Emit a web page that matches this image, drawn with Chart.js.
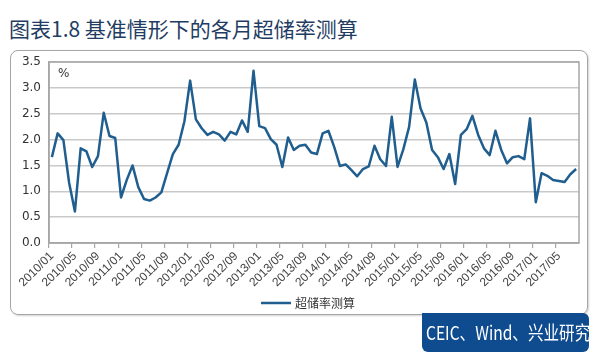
<!DOCTYPE html>
<html>
<head>
<meta charset="utf-8">
<script src="https://cdn.jsdelivr.net/npm/chart.js@4/dist/chart.umd.min.js"></script>
<style>
  body { margin: 0; background: #fff; }
  #wrap { position: relative; width: 600px; height: 360px; overflow: hidden; font-family: "Noto Sans CJK SC", "Noto Sans", sans-serif; }
  #title { position: absolute; left: 9px; top: 13px; font-size: 21px; color: #1f3d63; white-space: nowrap; }
  #frame { position: absolute; left: 10px; top: 50px; width: 578px; height: 265px; box-sizing: border-box;
           border: 1.5px solid #a6a6a6; border-radius: 8px; box-shadow: 1px 1px 2px rgba(0,0,0,0.18); }
  #chart { position: absolute; left: 0; top: 0; }
  #source { position: absolute; left: 422px; top: 313px; width: 167px; height: 39px; background: #0f4b8f;
            border-radius: 0 6px 6px 6px; overflow: hidden; }
  #source span { position: absolute; left: 4px; top: 0; color: #fff; font-size: 19px; line-height: 38px;
                 white-space: nowrap; transform: scaleX(0.82); transform-origin: left center; }
</style>
</head>
<body>
<div id="wrap">
  <div id="title">图表1.8 基准情形下的各月超储率测算</div>
  <div id="frame"></div>
  <canvas id="chart" width="600" height="360"></canvas>
  <div id="source"><span>CEIC、Wind、兴业研究</span></div>
</div>
<script>
const years = [2010, 2011, 2012, 2013, 2014, 2015, 2016, 2017];
const monthNames = ['01','02','03','04','05','06','07','08','09','10','11','12'];
const lastMonth = '2017/08';

// 超储率测算 (%), monthly 2010/01 - 2017/08
const excessReserve = [
  1.66, 2.12, 1.99, 1.16, 0.61, 1.83, 1.77, 1.47, 1.68, 2.52, 2.07, 2.03,
  0.88, 1.22, 1.50, 1.08, 0.85, 0.82, 0.88, 0.98, 1.35, 1.72, 1.90, 2.35,
  3.14, 2.39, 2.22, 2.09, 2.15, 2.10, 1.98, 2.15, 2.10, 2.37, 2.15, 3.33,
  2.26, 2.22, 2.01, 1.90, 1.47, 2.04, 1.80, 1.88, 1.90, 1.75, 1.72, 2.12,
  2.17, 1.86, 1.49, 1.52, 1.41, 1.29, 1.43, 1.48, 1.88, 1.62, 1.49, 2.44,
  1.47, 1.81, 2.24, 3.16, 2.60, 2.33, 1.80, 1.66, 1.43, 1.72, 1.14, 2.09,
  2.20, 2.46, 2.09, 1.83, 1.70, 2.17, 1.80, 1.54, 1.66, 1.68, 1.62, 2.41,
  0.79, 1.35, 1.30, 1.22, 1.20, 1.18, 1.33, 1.43
];

const tickLabels = [
  '2010/01','2010/05','2010/09','2011/01','2011/05','2011/09','2012/01','2012/05','2012/09',
  '2013/01','2013/05','2013/09','2014/01','2014/05','2014/09','2015/01','2015/05','2015/09',
  '2016/01','2016/05','2016/09','2017/01','2017/05'
];
const yTicks = [0, 0.5, 1.0, 1.5, 2.0, 2.5, 3.0, 3.5];
const seriesName = '超储率测算';
const unit = '%';

let months = [];
years.forEach((y) => {
  monthNames.forEach((m) => {
    if (months.length && months[months.length - 1] === lastMonth) return;
    months.push(y + '/' + m);
  });
});

const lineColor = '#1f5e8e';
const gridColor = '#c9c9c9';
const axisColor = '#a6a6a6';

const extras = {
  id: 'extras',
  beforeDatasetsDraw(chart) {
    const { ctx, chartArea: a } = chart;
    ctx.save();
    ctx.strokeStyle = axisColor;
    ctx.lineWidth = 1.5;
    ctx.strokeRect(a.left, a.top, a.right - a.left, a.bottom - a.top);
    ctx.restore();
  },
  afterDraw(chart) {
    const { ctx, chartArea: a } = chart;
    ctx.save();
    ctx.fillStyle = '#333';
    ctx.font = '12px "DejaVu Sans"';
    ctx.textBaseline = 'middle';
    ctx.fillText(unit, a.left + 9, a.top + 12);

    // legend
    let x0 = (a.left + a.right) / 2 - 53;
    let yL = 303;
    ctx.strokeStyle = lineColor;
    ctx.lineWidth = 2.5;
    ctx.beginPath();
    ctx.moveTo(x0, yL);
    ctx.lineTo(x0 + 30, yL);
    ctx.stroke();
    ctx.font = '12px "Noto Sans CJK SC"';
    ctx.fillStyle = '#333';
    ctx.fillText(seriesName, x0 + 34, yL);
    ctx.restore();
  }
};

const data = {
  labels: months,
  datasets: [{
    label: seriesName,
    data: excessReserve,
    borderColor: lineColor,
    backgroundColor: lineColor,
    borderWidth: 2.5,
    borderJoinStyle: 'round',
    pointRadius: 0,
    tension: 0
  }]
};

const config = {
  type: 'line',
  data,
  options: {
    responsive: false,
    animation: false,
    devicePixelRatio: 1,
    layout: { padding: { left: 10, top: 62, right: 21, bottom: 0 } },
    plugins: { legend: { display: false }, tooltip: { enabled: false } },
    scales: {
      x: {
        offset: true,
        afterFit: (s) => { s.height = 117; },
        grid: {
          offset: true,
          drawOnChartArea: false,
          tickLength: 5,
          color: (c) => (c.index % 4 === 0 ? axisColor : 'rgba(0,0,0,0)'),
          lineWidth: 1.2
        },
        border: { display: true, color: axisColor, width: 1.5 },
        ticks: {
          autoSkip: false,
          maxRotation: 45,
          minRotation: 45,
          padding: 1,
          color: '#444',
          font: { family: 'Liberation Sans', size: 12 },
          callback: function (v, i) {
            const l = months[i];
            return tickLabels.includes(l) ? l : '';
          }
        }
      },
      y: {
        min: 0,
        max: 3.5,
        afterFit: (s) => { s.width = 39; },
        afterBuildTicks: (s) => { s.ticks = yTicks.map((v) => ({ value: v })); },
        grid: { color: gridColor, lineWidth: 1.5, drawTicks: false },
        border: { display: true, color: axisColor, width: 1.5 },
        ticks: {
          padding: 8,
          color: '#333',
          font: { family: 'DejaVu Sans', size: 12 },
          callback: (v) => Number(v).toFixed(1)
        }
      }
    }
  },
  plugins: [extras]
};

new Chart(document.getElementById('chart'), config);
</script>
</body>
</html>
